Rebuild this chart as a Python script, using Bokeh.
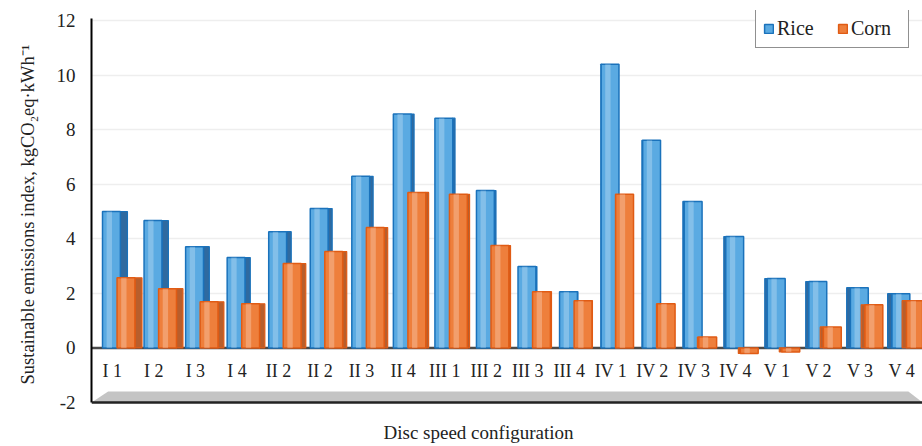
from bokeh.plotting import figure
from bokeh.models import (ColumnDataSource, FixedTicker, Span, Legend, LegendItem, Label, Range1d)
from bokeh.core.properties import value
from bokeh.embed import file_html
from bokeh.resources import INLINE

configs = ["I 1", "I 2", "I 3", "I 4", "II 2", "II 2", "II 3", "II 4", "III 1", "III 2",
           "III 3", "III 4", "IV 1", "IV 2", "IV 3", "IV 4", "V 1", "V 2", "V 3", "V 4"]
rice = [5.0, 4.67, 3.71, 3.31, 4.26, 5.11, 6.29, 8.57, 8.42, 5.77,
        2.98, 2.06, 10.4, 7.61, 5.37, 4.08, 2.54, 2.43, 2.21, 1.99]
corn = [2.57, 2.17, 1.69, 1.62, 3.09, 3.53, 4.41, 5.70, 5.63, 3.75,
        2.06, 1.73, 5.63, 1.62, 0.40, -0.20, -0.15, 0.77, 1.58, 1.73]
y_ticks = [-2, 0, 2, 4, 6, 8, 10, 12]

SERIF = value("Liberation Serif")
n = len(configs)
xs = list(range(n))

W, H = 922, 446
LEFT, TOP = 91, 10
PX_PER_Y = (402 - 20) / 14.0           # pixel scale of the value axis
y_end = 12 + (20 - TOP) / PX_PER_Y
y_start = -2 - (H - 402) / PX_PER_Y
PX_PER_X = (W - LEFT) / n

p = figure(width=W, height=H, output_backend="svg", toolbar_location=None,
           x_range=Range1d(-0.5, n - 0.5), y_range=Range1d(y_start, y_end),
           min_border_left=LEFT, min_border_right=0, min_border_top=TOP, min_border_bottom=0)
p.outline_line_color = None
p.background_fill_color = "white"
p.border_fill_color = "white"

# grid
p.xgrid.visible = False
p.ygrid.ticker = FixedTicker(ticks=[t for t in y_ticks if t > 0])
p.ygrid.grid_line_color = "#eeeeee"
p.ygrid.grid_line_width = 1.5

# y axis
p.yaxis.ticker = FixedTicker(ticks=y_ticks)
p.yaxis.bounds = (-2, 12.08)
p.yaxis.major_label_overrides = {t: str(t) for t in y_ticks}
p.yaxis.axis_line_color = "black"
p.yaxis.axis_line_width = 2
p.yaxis.major_tick_line_color = None
p.yaxis.minor_tick_line_color = None
p.yaxis.major_label_text_font = "Liberation Serif"
p.yaxis.major_label_text_font_size = "19px"
p.yaxis.major_label_text_color = "#222222"
p.yaxis.major_label_standoff = 10
p.yaxis.axis_label = "\u2003\u2002Sustainable emissions index, kgCO\u2082eq\u00b7kWh\u207b\u00b9"
p.yaxis.axis_label_text_font = "Liberation Serif"
p.yaxis.axis_label_text_font_size = "18.5px"
p.yaxis.axis_label_text_font_style = "normal"
p.yaxis.axis_label_text_color = "#222222"
p.yaxis.axis_label_standoff = 16

p.xaxis.visible = False

# x axis title
p.add_layout(Label(x=(478 - LEFT) / PX_PER_X - 0.5, y=-2 - 30 / PX_PER_Y,
                   text="Disc speed configuration", text_font="Liberation Serif",
                   text_font_size="19px", text_color="#222222",
                   text_align="center", text_baseline="middle"))

# floor at -2
x0, x1 = -0.5, n - 0.5
p.patch([x0, x0 + 0.4, x1 - 0.34, x1], [-2, -1.6, -1.6, -2],
        fill_color="#c4c4c4", line_color=None)
p.add_layout(Span(location=-2, dimension="width", line_color="#222222", line_width=2.5))
# baseline at 0
p.line([x0, x1], [0, 0], line_color="#4a4a4a", line_width=2.5)

# bars with pseudo-3D sides
vanish = 11.75
fw = 0.43

def draw_series(vals, off, face, edge, side, stripe):
    centers = [x + off for x in xs]
    sw = [0.17 * (vanish - x) / vanish for x in xs]
    left_s, right_s = [], []
    for c, s in zip(centers, sw):
        if s >= 0:
            left_s.append(c + fw / 2)
            right_s.append(c + fw / 2 + s)
        else:
            left_s.append(c - fw / 2 + s)
            right_s.append(c - fw / 2)
    src = ColumnDataSource(dict(x=centers, top=vals, bottom=[0] * n,
                                ls=left_s, rs=right_s,
                                sx=[c - fw * 0.12 for c in centers]))
    p.quad(left="ls", right="rs", top="top", bottom="bottom", source=src,
           fill_color=side, line_color=edge, line_width=1.2)
    r = p.vbar(x="x", width=fw, top="top", bottom="bottom", source=src,
               fill_color=face, line_color=edge, line_width=1.5)
    p.vbar(x="sx", width=fw * 0.3, top="top", bottom="bottom", source=src,
           fill_color=stripe, fill_alpha=0.25, line_color=None)
    return r

r_rice = draw_series(rice, -0.02, "#5aaae2", "#1a72bb", "#2f6aa0", "white")
r_corn = draw_series(corn, 0.33, "#ee7f3c", "#e05b14", "#b85e2c", "white")

# category labels inside plot
p.text(x=xs, y=[-0.84] * n, text=configs, text_font=SERIF, text_font_size="18px",
       text_align="center", text_baseline="middle", text_color="#222222")

legend = Legend(items=[LegendItem(label="Rice", renderers=[r_rice]),
                       LegendItem(label="Corn", renderers=[r_corn])],
                orientation="horizontal", location=(664, H - 48),
                label_text_font="Liberation Serif", label_text_font_size="20px",
                label_text_color="#222222", label_width=50,
                border_line_color="#222222", border_line_width=1.5,
                background_fill_color="white", background_fill_alpha=1,
                glyph_width=11, glyph_height=11, spacing=10, padding=7,
                margin=0, label_standoff=3)
p.add_layout(legend, "center")

open("out.html", "w").write(file_html(p, INLINE))
